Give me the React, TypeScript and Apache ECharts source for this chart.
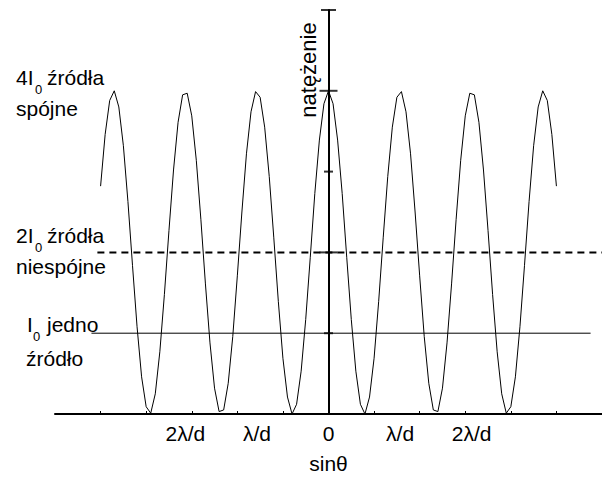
import React, { useEffect, useRef } from "react";
import * as echarts from "echarts";

// Horizontal axis in drawing units (one minor tick = 1 unit); curve sampled every 0.1 unit from -5 to 5
const sampleStart = -5;
const sampleStep = 0.1;
// Intensity in units of I0
const intensity = [
  2.82, 3.46, 3.88, 4.0, 3.8, 3.32, 2.63, 1.84, 1.08, 0.46,
  0.09, 0.01, 0.25, 0.77, 1.48, 2.27, 3.02, 3.61, 3.95, 3.97,
  3.69, 3.14, 2.41, 1.61, 0.88, 0.32, 0.03, 0.05, 0.38, 0.96,
  1.71, 2.5, 3.22, 3.74, 3.99, 3.92, 3.55, 2.94, 2.18, 1.39,
  0.69, 0.21, 0.0, 0.12, 0.53, 1.17, 1.94, 2.73, 3.39, 3.84,
  4.0,
  3.84, 3.39, 2.73, 1.94, 1.17, 0.53, 0.12, 0.0, 0.21, 0.69,
  1.39, 2.18, 2.94, 3.55, 3.92, 3.99, 3.74, 3.22, 2.5, 1.71,
  0.96, 0.38, 0.05, 0.03, 0.32, 0.88, 1.61, 2.41, 3.14, 3.69,
  3.97, 3.95, 3.61, 3.02, 2.27, 1.48, 0.77, 0.25, 0.01, 0.09,
  0.46, 1.08, 1.84, 2.63, 3.32, 3.8, 4.0, 3.88, 3.46, 2.82,
];
// Reference levels
const incoherentX = [-5.07, 6];
const incoherentLevel = 2;
const singleX = [-5.2, 5.75];
const singleLevel = 1;
// Axis ticks and labels
const xTickValues = [-5, -4, -3, -2, -1, 0, 1, 2, 3, 4, 5];
const xLabelValues = [-3.1416, -1.5708, 0, 1.5708, 3.1416];
const xLabelTexts = ["2λ/d", "λ/d", "0", "λ/d", "2λ/d"];
const yTickValues = [1, 2, 3, 4, 5];

const FONT = "'Liberation Sans', Arial, Helvetica, sans-serif";

export default function App() {
  const ref = useRef<HTMLDivElement>(null);
  useEffect(() => {
    if (!ref.current) return;
    const chart = echarts.init(ref.current, null, { renderer: "svg" });
    const curve = intensity.map((v, i) => [
      +(sampleStart + i * sampleStep).toFixed(2),
      v,
    ]);
    const tickWidth = (v: number) =>
      v === 2 || v === 4 ? 18 : v === 5 ? 15 : 9;
    const txt = (text: string, x: number, y: number, size: number, lh: number) => ({
      type: "text",
      x,
      y,
      silent: true,
      style: {
        text,
        fill: "#000",
        fontSize: size,
        fontFamily: FONT,
        lineHeight: lh,
        align: "left",
        verticalAlign: "middle",
      },
    });
    // baseline -> centre of the em box
    const c = (base: number, size: number) => base - 0.35 * size;
    const labelGroup = (
      pre: string,
      preX: number,
      subX: number,
      post: string,
      postX: number,
      base: number,
      subBase: number,
      line2: string,
      line2X: number,
      base2: number
    ) => [
      txt(pre, preX, c(base, 21), 21, 15),
      txt("0", subX, c(subBase, 13), 13, 10),
      txt(post, postX, c(base, 21), 21, 15),
      txt(line2, line2X, c(base2, 21), 21, 14),
    ];
    chart.setOption({
      animation: false,
      grid: { left: 55, right: 0, top: 10, bottom: 62 },
      xAxis: {
        type: "value",
        min: -6,
        max: 6,
        interval: 1,
        name: "sinθ",
        nameLocation: "middle",
        nameGap: 39,
        nameTextStyle: { color: "#000", fontSize: 21, fontFamily: FONT },
        axisLine: { onZero: true, lineStyle: { color: "#000", width: 2 } },
        axisTick: {
          show: true,
          inside: true,
          length: 3,
          customValues: xTickValues,
          lineStyle: { color: "#000", width: 1 },
        },
        axisLabel: {
          customValues: xLabelValues,
          formatter: (v: number) => {
            const i = xLabelValues.findIndex((cv) => Math.abs(cv - v) < 1e-3);
            return i >= 0 ? xLabelTexts[i] : "";
          },
          color: "#000",
          fontSize: 21,
          fontFamily: FONT,
          margin: 9,
        },
        splitLine: { show: false },
      },
      yAxis: {
        type: "value",
        min: 0,
        max: 5,
        interval: 1,
        axisLine: { show: true, onZero: true, lineStyle: { color: "#000", width: 2 } },
        axisTick: { show: false },
        axisLabel: { show: false },
        splitLine: { show: false },
      },
      series: [
        {
          type: "line",
          data: curve,
          symbol: "none",
          lineStyle: { color: "#000", width: 1 },
          z: 3,
        },
        {
          type: "line",
          data: incoherentX.map((x) => [x, incoherentLevel]),
          symbol: "none",
          lineStyle: { color: "#000", width: 2, type: [7, 5] },
          z: 2,
        },
        {
          type: "line",
          data: singleX.map((x) => [x, singleLevel]),
          symbol: "none",
          lineStyle: { color: "#000", width: 1 },
          z: 2,
        },
        {
          type: "scatter",
          data: yTickValues.map((v) => [0, v]),
          symbol: "rect",
          symbolSize: (val: number[]) => [tickWidth(val[1]), 2],
          itemStyle: { color: "#000" },
          z: 4,
        },
      ],
      graphic: [
        ...labelGroup("4I", 16, 35, "źródła", 47, 85, 94, "spójne", 16, 116),
        ...labelGroup("2I", 16, 35, "źródła", 47, 243, 252, "niespójne", 16, 274),
        ...labelGroup("I", 27, 33, "jedno", 47, 332, 341, "źródło", 26, 366),
        {
          type: "text",
          x: 308,
          y: 70,
          rotation: Math.PI / 2,
          silent: true,
          style: {
            text: "natężenie",
            fill: "#000",
            fontSize: 22,
            fontFamily: FONT,
            align: "center",
            verticalAlign: "middle",
          },
        },
      ],
    });
    return () => chart.dispose();
  }, []);
  return (
    <div
      ref={ref}
      style={{ position: "absolute", left: 0, top: 0, width: 602, height: 479 }}
    />
  );
}
